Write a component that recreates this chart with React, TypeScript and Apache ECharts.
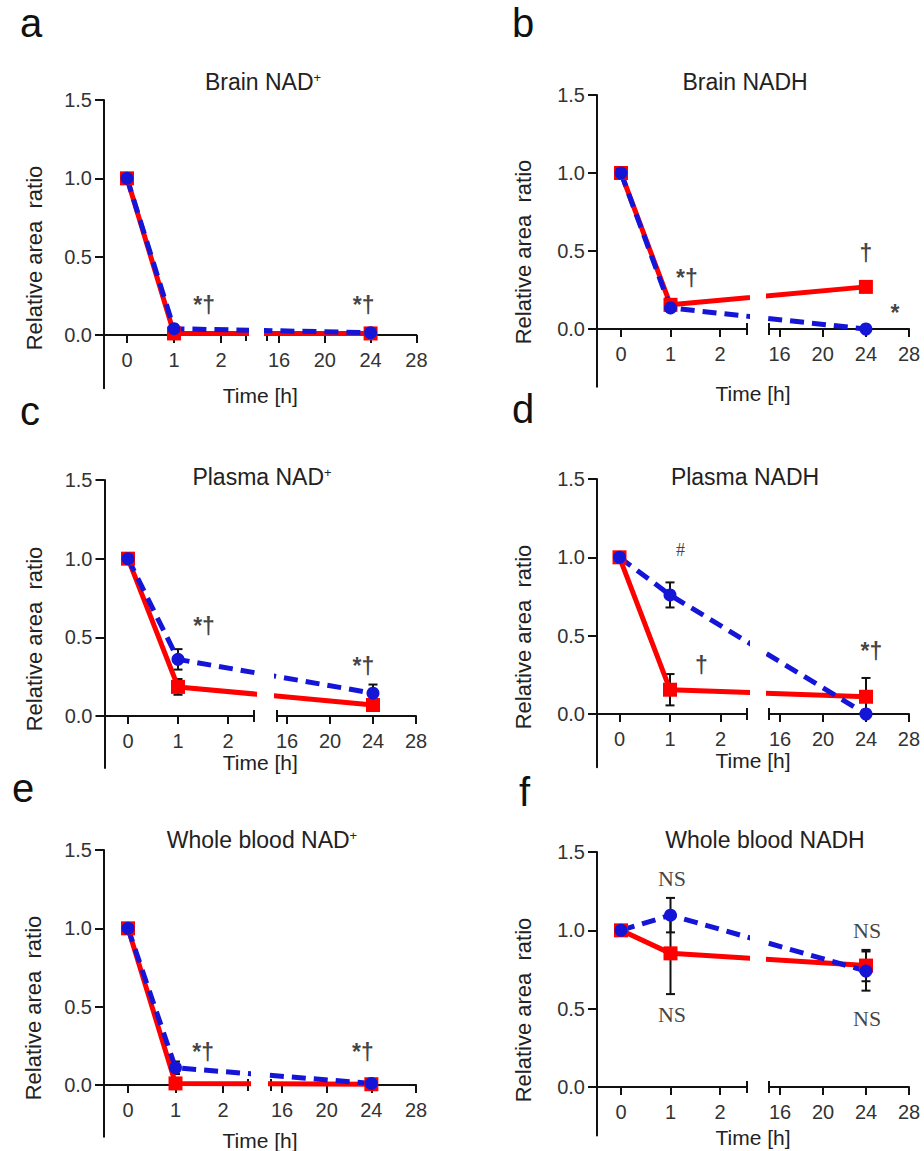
import React, { useEffect, useRef } from "react";
import * as echarts from "echarts";

// ---------------- data ----------------
const TIMES_H = [0, 1, 24];
const Y_TICK_VALUES = [0, 0.5, 1.0, 1.5];
const X_TICKS_EARLY = [0, 1, 2];
const X_TICKS_LATE = [16, 20, 24, 28];

const PANEL_LETTERS = ["a", "b", "c", "d", "e", "f"];
const PANEL_TITLES = ["Brain NAD", "Brain NADH", "Plasma NAD", "Plasma NADH", "Whole blood NAD", "Whole blood NADH"];
const PANEL_TITLE_SUP = ["+", "", "+", "", "+", ""];

// red = solid line with squares, blue = dashed line with circles
const brainNadRed = [1.0, 0.01, 0.01];
const brainNadRedErr = [0, 0, 0];
const brainNadBlue = [1.0, 0.04, 0.015];
const brainNadBlueErr = [0, 0.01, 0];
const brainNadNotes: [number, number, string][] = [[1.64, 0.19, "*†"], [23.4, 0.19, "*†"]];

const brainNadhRed = [1.0, 0.155, 0.27];
const brainNadhRedErr = [0, 0.02, 0.03];
const brainNadhBlue = [1.0, 0.135, 0.0];
const brainNadhBlueErr = [0, 0.02, 0];
const brainNadhNotes: [number, number, string][] = [[1.33, 0.33, "*†"], [24, 0.49, "†"], [26.7, 0.1, "*"]];

const plasmaNadRed = [1.0, 0.185, 0.07];
const plasmaNadRedErr = [0, 0.05, 0.03];
const plasmaNadBlue = [1.0, 0.36, 0.145];
const plasmaNadBlueErr = [0, 0.065, 0.055];
const plasmaNadNotes: [number, number, string][] = [[1.52, 0.57, "*†"], [23.1, 0.32, "*†"]];

const plasmaNadhRed = [1.0, 0.155, 0.11];
const plasmaNadhRedErr = [0, 0.1, 0.12];
const plasmaNadhBlue = [1.0, 0.76, 0.0];
const plasmaNadhBlueErr = [0, 0.08, 0];
const plasmaNadhNotes: [number, number, string][] = [[1.21, 1.05, "#"], [1.62, 0.31, "†"], [24.5, 0.4, "*†"]];

const bloodNadRed = [1.0, 0.01, 0.005];
const bloodNadRedErr = [0, 0.02, 0];
const bloodNadBlue = [1.0, 0.11, 0.01];
const bloodNadBlueErr = [0, 0.04, 0];
const bloodNadNotes: [number, number, string][] = [[1.58, 0.21, "*†"], [23.25, 0.21, "*†"]];

const bloodNadhRed = [1.0, 0.853, 0.775];
const bloodNadhRedErr = [0, 0.26, 0.1];
const bloodNadhBlue = [1.0, 1.097, 0.74];
const bloodNadhBlueErr = [0, 0.11, 0.125];
const bloodNadhNotes: [number, number, string][] = [[1.03, 1.33, "NS"], [1.03, 0.46, "NS"], [24.1, 1.0, "NS"], [24.1, 0.44, "NS"]];

const RED_SERIES = [brainNadRed, brainNadhRed, plasmaNadRed, plasmaNadhRed, bloodNadRed, bloodNadhRed];
const RED_ERRORS = [brainNadRedErr, brainNadhRedErr, plasmaNadRedErr, plasmaNadhRedErr, bloodNadRedErr, bloodNadhRedErr];
const BLUE_SERIES = [brainNadBlue, brainNadhBlue, plasmaNadBlue, plasmaNadhBlue, bloodNadBlue, bloodNadhBlue];
const BLUE_ERRORS = [brainNadBlueErr, brainNadhBlueErr, plasmaNadBlueErr, plasmaNadhBlueErr, bloodNadBlueErr, bloodNadhBlueErr];
const NOTES = [brainNadNotes, brainNadhNotes, plasmaNadNotes, plasmaNadhNotes, bloodNadNotes, bloodNadhNotes];

// ---------------- layout (pixels) ----------------
const GEOM = [
  { ox: 104, x0: 127, U: 47, endL: 246, startR: 267, x16: 279, R: 11.45, y0: 335, y15: 100, yMin: -0.34, titleX: 263, titleY: 82, timeY: 395, letterX: 20, letterBase: 37, ylabX: 34 },
  { ox: 597, x0: 621, U: 49.5, endL: 747, startR: 769, x16: 779.5, R: 10.8, y0: 329, y15: 95, yMin: -0.37, titleX: 745, titleY: 82, timeY: 393, letterX: 512, letterBase: 37, ylabX: 523 },
  { ox: 104.5, x0: 128, U: 50, endL: 254, startR: 277, x16: 287, R: 10.75, y0: 716, y15: 480, yMin: -0.33, titleX: 262, titleY: 477, timeY: 762, letterX: 20, letterBase: 425, ylabX: 34 },
  { ox: 597, x0: 619.5, U: 50.5, endL: 747, startR: 769, x16: 780, R: 10.75, y0: 714, y15: 479, yMin: -0.34, titleX: 745, titleY: 477, timeY: 760, letterX: 512, letterBase: 423, ylabX: 523 },
  { ox: 104, x0: 128, U: 47.5, endL: 248, startR: 271, x16: 282, R: 11.17, y0: 1085, y15: 850, yMin: -0.33, titleX: 262, titleY: 840, timeY: 1140, letterX: 12, letterBase: 802, ylabX: 33 },
  { ox: 597, x0: 621, U: 49.5, endL: 747, startR: 769, x16: 780, R: 10.75, y0: 1087, y15: 852, yMin: -0.31, titleX: 765, titleY: 840, timeY: 1137, letterX: 519, letterBase: 806, ylabX: 523 },
];

const SANS = "'Liberation Sans', Arial, Helvetica, sans-serif";
const SERIF = "'Liberation Serif', 'Times New Roman', serif";
const RED = "#ff0000";
const BLUE = "#1515d8";
const INK = "#111111";

function buildOption() {
  const grid: any[] = [];
  const xAxis: any[] = [];
  const yAxis: any[] = [];
  const series: any[] = [];
  const graphic: any[] = [];

  GEOM.forEach((g, i) => {
    const pos = (t: number) => (t < 8 ? t : (g.x16 - g.x0) / g.U + ((t - 16) * g.R) / g.U);
    const lateHour = (v: number) => 16 + (v * g.U - (g.x16 - g.x0)) / g.R;
    const x28 = g.x16 + 12 * g.R;
    const pxPerVal = (g.y0 - g.y15) / 1.5;
    const yBot = g.y0 - g.yMin * pxPerVal;
    const height = yBot - g.y15;
    const eps = 1e-6;

    const segments = [
      { left: g.ox, width: g.endL - g.ox, min: (g.ox - g.x0) / g.U, max: (g.endL - g.x0) / g.U, ticks: X_TICKS_EARLY, early: true },
      { left: g.startR, width: x28 - g.startR, min: (g.startR - g.x0) / g.U, max: pos(28) + eps, ticks: X_TICKS_LATE, early: false },
    ];

    segments.forEach((s) => {
      const gi = grid.length;
      grid.push({ left: s.left, top: g.y15, width: s.width, height, containLabel: false, outerBoundsMode: "none" });
      const tickVals = s.ticks.map(pos);
      xAxis.push({
        gridIndex: gi,
        type: "value",
        position: "bottom",
        min: s.min,
        max: s.max,
        offset: -(yBot - g.y0),
        axisLine: { show: true, onZero: false, lineStyle: { color: INK, width: 2 } },
        axisTick: { show: true, customValues: tickVals, length: 8, lineStyle: { color: INK, width: 2 } },
        axisLabel: {
          show: true,
          customValues: tickVals,
          margin: 15,
          fontSize: 20,
          fontFamily: SANS,
          color: "#333",
          showMaxLabel: true,
          formatter: (v: number) => String(Math.round(s.early ? v : lateHour(v))),
        },
        splitLine: { show: false },
      });
      yAxis.push({
        gridIndex: gi,
        type: "value",
        min: g.yMin,
        max: 1.5,
        show: s.early,
        axisLine: { show: true, onZero: false, lineStyle: { color: INK, width: 2 } },
        axisTick: { show: true, customValues: Y_TICK_VALUES, length: 9, lineStyle: { color: INK, width: 2 } },
        axisLabel: {
          show: true,
          customValues: Y_TICK_VALUES,
          margin: 12,
          fontSize: 20,
          fontFamily: SANS,
          color: "#333",
          formatter: (v: number) => v.toFixed(1),
        },
        splitLine: { show: false },
      });

      const inSeg = (t: number) => (s.early ? t < 8 : t >= 8);
      const errData: number[][] = [];
      [[RED_SERIES[i], RED_ERRORS[i]], [BLUE_SERIES[i], BLUE_ERRORS[i]]].forEach(([vals, errs]) => {
        TIMES_H.forEach((t, j) => {
          if (inSeg(t) && errs[j] > 0) errData.push([pos(t), vals[j], errs[j]]);
        });
      });

      series.push({
        type: "custom",
        xAxisIndex: gi,
        yAxisIndex: gi,
        silent: true,
        data: errData,
        renderItem: (_p: any, api: any) => {
          const x = api.value(0);
          const m = api.value(1);
          const e = api.value(2);
          const top = api.coord([x, m + e]);
          const bot = api.coord([x, m - e]);
          const st = { stroke: INK, lineWidth: 2 };
          return {
            type: "group",
            children: [
              { type: "line", shape: { x1: top[0], y1: top[1], x2: bot[0], y2: bot[1] }, style: st },
              { type: "line", shape: { x1: top[0] - 4.5, y1: top[1], x2: top[0] + 4.5, y2: top[1] }, style: st },
              { type: "line", shape: { x1: bot[0] - 4.5, y1: bot[1], x2: bot[0] + 4.5, y2: bot[1] }, style: st },
            ],
          };
        },
      });

      series.push({
        type: "line",
        xAxisIndex: gi,
        yAxisIndex: gi,
        silent: true,
        clip: true,
        data: TIMES_H.map((t, j) => [pos(t), RED_SERIES[i][j]]),
        symbol: "rect",
        symbolSize: 14,
        showAllSymbol: true,
        lineStyle: { color: RED, width: 5 },
        itemStyle: { color: RED },
      });
      series.push({
        type: "line",
        xAxisIndex: gi,
        yAxisIndex: gi,
        silent: true,
        clip: true,
        data: TIMES_H.map((t, j) => [pos(t), BLUE_SERIES[i][j]]),
        symbol: "circle",
        symbolSize: 13,
        showAllSymbol: true,
        lineStyle: { color: BLUE, width: 5, type: [14, 8] },
        itemStyle: { color: BLUE },
      });

      const notes = NOTES[i].filter((n) => inSeg(n[0]));
      series.push({
        type: "scatter",
        xAxisIndex: gi,
        yAxisIndex: gi,
        silent: true,
        symbolSize: 1,
        itemStyle: { color: "rgba(255,255,255,0)" },
        data: notes.map((n) => ({
          value: [pos(n[0]), n[1]],
          name: n[2],
          label:
            n[2] === "NS"
              ? { fontFamily: SERIF, fontSize: 22, color: "#111111", textBorderWidth: 0 }
              : n[2] === "#"
              ? { fontFamily: SERIF, fontSize: 18, color: "#111111", textBorderWidth: 0 }
              : { fontFamily: SANS, fontSize: 23, fontWeight: "bold", color: INK, textBorderWidth: 0 },
        })),
        label: { show: true, position: "inside", formatter: "{b}", textBorderWidth: 0 },
      });
    });

    // break ticks
    [g.endL, g.startR].forEach((bx) => {
      graphic.push({ type: "line", silent: true, shape: { x1: bx, y1: g.y0 - 6, x2: bx, y2: g.y0 + 6 }, style: { stroke: INK, lineWidth: 2 } });
    });

    graphic.push({
      type: "text",
      x: g.letterX,
      y: g.letterBase - 14,
      style: { text: PANEL_LETTERS[i], fontSize: 40, fontFamily: SANS, fill: INK, align: "left", verticalAlign: "middle" },
    });
    const sup = PANEL_TITLE_SUP[i];
    graphic.push({
      type: "text",
      x: g.titleX,
      y: g.titleY,
      style: {
        text: sup ? `{m|${PANEL_TITLES[i]}}{s|${sup}}` : `{m|${PANEL_TITLES[i]}}`,
        rich: {
          m: { fontSize: 23, fontFamily: SANS, fill: "#222" },
          s: { fontSize: 13, fontFamily: SANS, fill: "#222", verticalAlign: "top" },
        },
        align: "center",
        verticalAlign: "middle",
      },
    });
    graphic.push({
      type: "text",
      x: g.ylabX,
      y: g.y0 - 77,
      rotation: Math.PI / 2,
      style: { text: "Relative area  ratio", fontSize: 22, fontFamily: SANS, fill: "#222", align: "center", verticalAlign: "middle" },
    });
    graphic.push({
      type: "text",
      x: (g.ox + x28) / 2,
      y: g.timeY,
      style: { text: "Time [h]", fontSize: 21, fontFamily: SANS, fill: "#222", align: "center", verticalAlign: "middle" },
    });
  });

  return {
    animation: false,
    backgroundColor: "#ffffff",
    grid,
    xAxis,
    yAxis,
    series,
    graphic: { elements: graphic },
  };
}

export default function App() {
  const ref = useRef<HTMLDivElement>(null);
  useEffect(() => {
    if (!ref.current) return;
    const chart = echarts.init(ref.current, undefined, { renderer: "svg" });
    chart.setOption(buildOption() as any);
    return () => chart.dispose();
  }, []);
  return (
    <div
      ref={ref}
      style={{ position: "absolute", left: 0, top: 0, width: 924, height: 1151, background: "#fff" }}
    />
  );
}
